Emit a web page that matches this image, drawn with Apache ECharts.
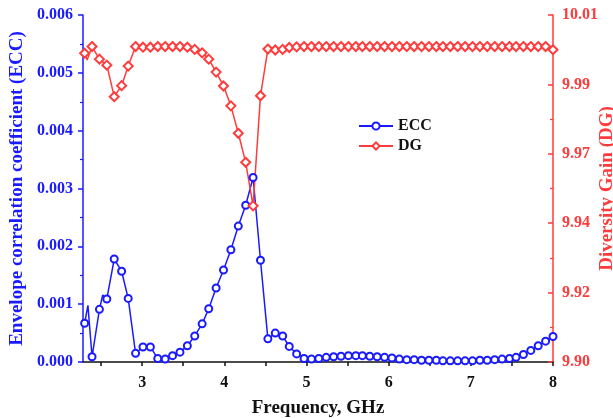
<!DOCTYPE html>
<html>
<head>
<meta charset="utf-8">
<script src="https://cdn.jsdelivr.net/npm/echarts@6/dist/echarts.min.js"></script>
<style>
  html, body { margin: 0; padding: 0; background: #fff; }
  #chart { width: 613px; height: 418px; }
</style>
</head>
<body>
<div id="chart"></div>
<script>
// frequency points (GHz) where markers are drawn
var freq = [2.30, 2.39, 2.48, 2.57, 2.66, 2.75, 2.83, 2.92, 3.01, 3.10,
            3.19, 3.28, 3.37, 3.46, 3.55, 3.64, 3.73, 3.81, 3.90, 3.99,
            4.08, 4.17, 4.26, 4.35, 4.44, 4.53, 4.62, 4.71, 4.79, 4.88,
            4.97, 5.06, 5.15, 5.24, 5.33, 5.42, 5.51, 5.60, 5.68, 5.77,
            5.86, 5.95, 6.04, 6.13, 6.22, 6.31, 6.40, 6.49, 6.58, 6.66,
            6.75, 6.84, 6.93, 7.02, 7.11, 7.20, 7.29, 7.38, 7.47, 7.55,
            7.64, 7.73, 7.82, 7.91, 8.00];

var ecc = [0.00067, 0.00009, 0.00091, 0.00109, 0.00178, 0.00157, 0.00110, 0.00015, 0.00026, 0.00026,
           0.00006, 0.00005, 0.00011, 0.00017, 0.00028, 0.00045, 0.00066, 0.00092, 0.00128, 0.00159,
           0.00194, 0.00235, 0.00271, 0.00319, 0.00176, 0.00040, 0.00050, 0.00045, 0.00027, 0.00014,
           0.00006, 0.00005, 0.00006, 0.00008, 0.00009, 0.00010, 0.00011, 0.00011, 0.00011, 0.00010,
           0.00009, 0.00008, 0.00007, 0.00005, 0.00004, 0.00004, 0.00003, 0.00003, 0.00003, 0.00002,
           0.00002, 0.00002, 0.00002, 0.00002, 0.00003, 0.00003, 0.00004, 0.00005, 0.00006, 0.00008,
           0.00013, 0.00020, 0.00028, 0.00036, 0.00044];

var dg = [9.9979, 10.0000, 9.9960, 9.9941, 9.9841, 9.9876, 9.9938, 10.0000, 9.9998, 9.9998,
          10.0000, 10.0000, 10.0000, 10.0000, 9.9998, 9.9991, 9.9980, 9.9960, 9.9919, 9.9875,
          9.9812, 9.9725, 9.9633, 9.9495, 9.9844, 9.9992, 9.9989, 9.9991, 9.9997, 9.9999,
          10.0000, 10.0000, 10.0000, 10.0000, 10.0000, 10.0000, 10.0000, 10.0000, 10.0000, 10.0000,
          10.0000, 10.0000, 10.0000, 10.0000, 10.0000, 10.0000, 10.0000, 10.0000, 10.0000, 10.0000,
          10.0000, 10.0000, 10.0000, 10.0000, 10.0000, 10.0000, 10.0000, 10.0000, 10.0000, 10.0000,
          10.0000, 10.0000, 10.0000, 10.0000, 9.9990];

// extra line vertices without markers
var eccExtraFreq = [2.34, 2.52];
var eccExtra = [0.00098, 0.00116];
var dgExtraFreq = [2.33];
var dgExtra = [9.9957];

var xLabels = [3, 4, 5, 6, 7, 8];
var xTicks = [2.5, 3, 3.5, 4, 4.5, 5, 5.5, 6, 6.5, 7, 7.5, 8];

var BLUE = '#1a1aff';
var RED = '#ff3b3b';
var FONT = '"Liberation Serif", "Times New Roman", serif';

function buildPoints(xs, ys, exX, exY) {
  var pts = xs.map(function (f, i) { return { value: [f, ys[i]] }; });
  exX.forEach(function (f, i) {
    pts.push({ value: [f, exY[i]], symbol: 'none' });
  });
  pts.sort(function (a, b) { return a.value[0] - b.value[0]; });
  return pts;
}

var chart = echarts.init(document.getElementById('chart'));
chart.setOption({
  animation: false,
  grid: { left: 83, right: 60, top: 15, bottom: 56, containLabel: false, outerBoundsMode: 'none' },
  legend: {
    orient: 'vertical',
    left: 353,
    top: 113,
    itemWidth: 34,
    itemHeight: 9,
    itemGap: 4,
    data: ['ECC', 'DG'],
    textStyle: { fontFamily: FONT, fontWeight: 'bold', fontSize: 16, color: '#111' }
  },
  xAxis: {
    type: 'value',
    min: 2.28,
    max: 8,
    name: 'Frequency, GHz',
    nameLocation: 'middle',
    nameGap: 37,
    nameMoveOverlap: false,
    nameTextStyle: { fontFamily: FONT, fontWeight: 'bold', fontSize: 19, color: '#111' },
    axisLine: { lineStyle: { color: '#111', width: 1.5 } },
    axisTick: { customValues: xTicks, length: 4, lineStyle: { color: '#111', width: 1.5 } },
    axisLabel: {
      customValues: xLabels,
      margin: 13,
      fontFamily: FONT, fontWeight: 'bold', fontSize: 16, color: '#111'
    },
    splitLine: { show: false }
  },
  yAxis: [
    {
      type: 'value',
      min: 0,
      max: 0.006,
      interval: 0.001,
      position: 'left',
      name: 'Envelope correlation coefficient (ECC)',
      nameLocation: 'middle',
      nameRotate: 90,
      nameGap: 56,
      nameMoveOverlap: false,
      nameTextStyle: { fontFamily: FONT, fontWeight: 'bold', fontSize: 19, color: BLUE },
      axisLine: { show: true, lineStyle: { color: BLUE, width: 1.5 } },
      axisTick: { show: true, length: 5, lineStyle: { color: BLUE, width: 1.5 } },
      minorTick: { show: true, splitNumber: 2, length: 3, lineStyle: { color: BLUE, width: 1.2 } },
      axisLabel: {
        margin: 10,
        formatter: function (v) { return v.toFixed(3); },
        fontFamily: FONT, fontWeight: 'bold', fontSize: 16, color: BLUE
      },
      splitLine: { show: false }
    },
    {
      type: 'value',
      min: 9.90,
      max: 10.01,
      interval: 0.022,
      position: 'right',
      name: 'Diversity Gain (DG)',
      nameLocation: 'middle',
      nameRotate: 90,
      nameGap: 45,
      nameMoveOverlap: false,
      nameTextStyle: { fontFamily: FONT, fontWeight: 'bold', fontSize: 19, color: RED },
      axisLine: { show: true, lineStyle: { color: RED, width: 1.5 } },
      axisTick: { show: true, inside: true, length: 5, lineStyle: { color: RED, width: 1.5 } },
      minorTick: { show: true, splitNumber: 2, length: 3, lineStyle: { color: RED, width: 1.2 } },
      axisLabel: {
        margin: 9,
        formatter: function (v) { return v.toFixed(2); },
        fontFamily: FONT, fontWeight: 'bold', fontSize: 16, color: RED
      },
      splitLine: { show: false }
    }
  ],
  series: [
    {
      name: 'ECC',
      type: 'line',
      yAxisIndex: 0,
      symbol: 'emptyCircle',
      symbolSize: 7,
      color: BLUE,
      lineStyle: { color: BLUE, width: 1.5 },
      itemStyle: { color: BLUE, borderColor: BLUE, borderWidth: 1.5 },
      data: buildPoints(freq, ecc, eccExtraFreq, eccExtra)
    },
    {
      name: 'DG',
      type: 'line',
      yAxisIndex: 1,
      symbol: 'emptyDiamond',
      symbolSize: 9,
      color: RED,
      lineStyle: { color: RED, width: 1.5 },
      itemStyle: { color: RED, borderColor: RED, borderWidth: 1.5 },
      data: buildPoints(freq, dg, dgExtraFreq, dgExtra)
    }
  ]
});
</script>
</body>
</html>
